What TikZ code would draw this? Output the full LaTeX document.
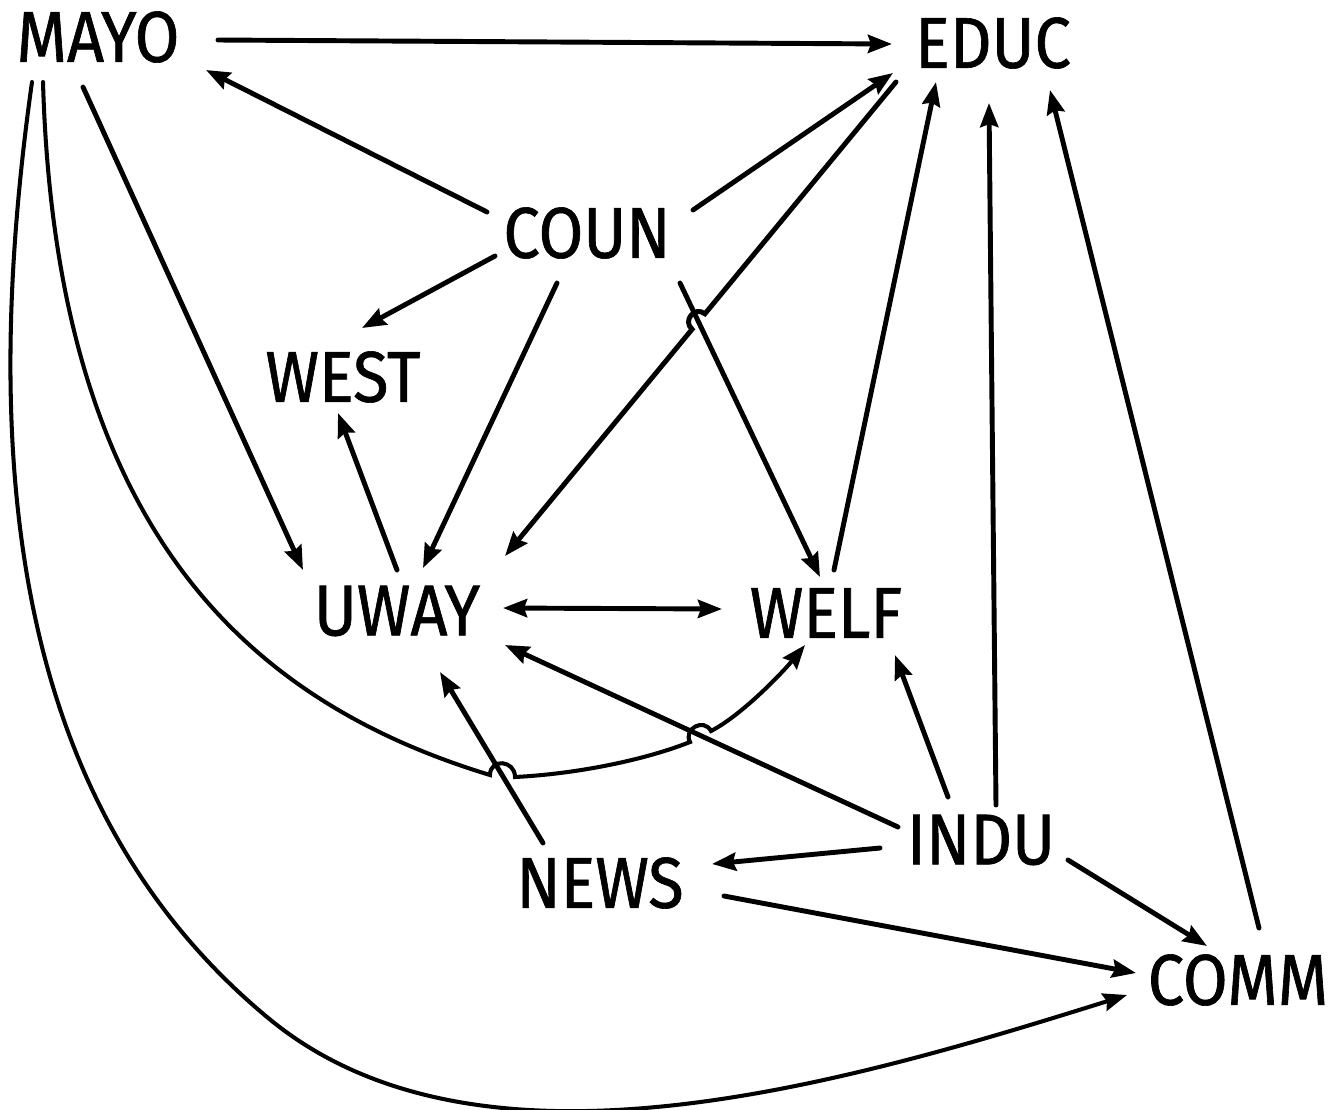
\documentclass[tikz,border=0pt]{standalone}
\usepackage{fontspec}
\setmainfont[FakeStretch=0.9,FakeBold=0.9]{Fira Sans}
\usetikzlibrary{arrows.meta,calc}
\begin{document}
\begin{tikzpicture}[x=0.02cm,y=-0.02cm,
  lbl/.style={font=\fontsize{41}{41}\selectfont, inner sep=0pt},
  tip/.tip={Stealth[length=0.48cm,width=0.36cm,inset=0.06cm]},
  arr/.style={line width=2.8pt, line cap=round, -tip},
  both/.style={line width=2.8pt, line cap=round, tip-tip},
  crvarr/.style={line width=2.3pt, line cap=round, -tip}]
\path[use as bounding box] (0,0) rectangle (1330,1110);
\node[lbl] (mayo) at (98,37) {MAYO};
\node[lbl] (educ) at (993,43) {EDUC};
\node[lbl] (coun) at (587,233) {COUN};
\node[lbl] (west) at (343,377) {WEST};
\node[lbl] (uway) at (397,611) {UWAY};
\node[lbl] (welf) at (826,613) {WELF};
\node[lbl] (indu) at (981,840) {INDU};
\node[lbl] (news) at (600,883) {NEWS};
\node[lbl] (comm) at (1238,980) {COMM};
% straight connectors
\draw[arr] ($(mayo)+(120,3)$) -- ($(educ)+(-101,1)$);
\draw[arr] ($(coun)+(-100,-21)$) -- ($(mayo)+(108,33)$);
\draw[arr] ($(coun)+(106,-23)$) -- ($(educ)+(-100,30)$);
\draw[arr] ($(coun)+(-92,23)$) -- ($(west)+(19,-49)$);
\draw[arr] ($(coun)+(-30,50)$) -- ($(uway)+(26,-43)$);
\draw[arr] ($(coun)+(93,50)$) -- ($(welf)+(-6,-36)$);
\draw[arr] ($(educ)+(-97,39)$) -- (704.9,313.8) .. controls (694.9,305.5) and (682.1,320.9) .. (692.1,329.2) -- ($(uway)+(108,-55)$);
\draw[arr] ($(mayo)+(-15,50)$) -- ($(uway)+(-94,-41)$);
\draw[arr] ($(uway)+(0,-41)$) -- ($(west)+(-5,36)$);
\draw[both] ($(uway)+(106,-3)$) -- ($(welf)+(-104,-4)$);
\draw[arr] ($(welf)+(8,-43)$) -- ($(educ)+(-57,39)$);
\draw[arr] ($(indu)+(15,-35)$) -- ($(educ)+(-4,60)$);
\draw[arr] ($(comm)+(21,-52)$) -- ($(educ)+(57,47)$);
\draw[arr] ($(indu)+(-33,-43)$) -- ($(welf)+(69,42)$);
\draw[arr] ($(indu)+(-83,-13)$) -- ($(uway)+(108,34)$);
\draw[arr] ($(indu)+(-101,8)$) -- ($(news)+(112,-19)$);
\draw[arr] ($(indu)+(87,20)$) -- ($(comm)+(-31,-34)$);
\draw[arr] ($(news)+(124,13)$) -- ($(comm)+(-102,-7)$);
\draw[arr] ($(news)+(-57,-40)$) -- ($(uway)+(43,61)$);
% curved connectors
\draw[crvarr] ($(mayo)+(-55,45)$) .. controls (56,532) and (250,702) .. (490,775)
  .. controls (490,758) and (515,760) .. (515,777)
  .. controls (575,774) and (643.5,760.5) .. (690,742)
  .. controls (683,728.7) and (704,717.7) .. (711,731)
  .. controls (742,715) and (783,672) .. ($(welf)+(-21,32)$);
\draw[crvarr] ($(mayo)+(-66,45)$) .. controls (-24,480) and (20.6,812) .. (267,1017)
  .. controls (476,1192) and (840,1085) .. ($(comm)+(-111,15)$);
\end{tikzpicture}
\end{document}
